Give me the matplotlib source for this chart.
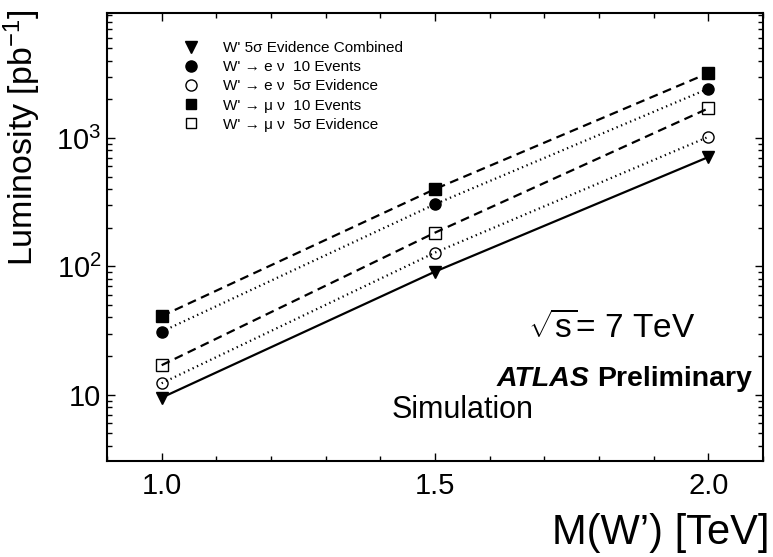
import matplotlib
matplotlib.use("Agg")
import matplotlib.pyplot as plt
from matplotlib.lines import Line2D
from matplotlib.ticker import FixedLocator, FixedFormatter, LogLocator, NullFormatter, MultipleLocator

plt.rcParams['font.family'] = ['Liberation Sans', 'DejaVu Sans']
plt.rcParams['mathtext.fontset'] = 'custom'
plt.rcParams['mathtext.rm'] = 'Liberation Sans'
plt.rcParams['mathtext.it'] = 'Liberation Sans:italic'
plt.rcParams['mathtext.bf'] = 'Liberation Sans:bold'

# W' mass points [TeV]
mass = [1.0, 1.5, 2.0]
# Integrated luminosity needed [pb^-1]
combined_5sigma = [9.5, 91, 710]
enu_10events = [31, 305, 2420]
enu_5sigma = [12.3, 128, 1020]
munu_10events = [41, 400, 3200]
munu_5sigma = [17, 183, 1700]

labels = ["W' 5\u03c3 Evidence Combined",
          "W' \u2192 e \u03bd  10 Events",
          "W' \u2192 e \u03bd  5\u03c3 Evidence",
          "W' \u2192 \u03bc \u03bd  10 Events",
          "W' \u2192 \u03bc \u03bd  5\u03c3 Evidence"]

xticks = [1.0, 1.5, 2.0]
xticklabels = ["1.0", "1.5", "2.0"]
yticks = [10, 100, 1000]
yticklabels = ["10", r"$10^{2}$", r"$10^{3}$"]

fig = plt.figure(figsize=(7.73, 5.57), dpi=100)
ax = fig.add_axes([107/773, 1 - 461/557, (763 - 107)/773, (461 - 13)/557])
ax.set_yscale('log')
ax.set_xlim(0.9, 2.1)
ax.set_ylim(3.05, 9400)

lw = 1.6
ms = 8
# (values, line style, marker, filled)
series = [
    (munu_10events, '--', 's', True),
    (enu_10events, ':', 'o', True),
    (munu_5sigma, '--', 's', False),
    (enu_5sigma, ':', 'o', False),
    (combined_5sigma, '-', 'v', True),
]
for vals, ls, mk, filled in series:
    if ls == '--':
        dash = (4, 2.5)
    elif ls == ':':
        dash = (0.6, 1.6)
    else:
        dash = (None, None)
    ax.plot(mass, vals, linestyle=ls, color='black', lw=lw,
            dashes=dash, dash_capstyle='butt', zorder=2)
    ax.plot(mass, vals, linestyle='none', marker=mk,
            markersize=ms + 1 if mk == 'v' else ms,
            markerfacecolor='black' if filled else 'none',
            markeredgecolor='black', markeredgewidth=1.0, zorder=3)

# axes styling
for s in ax.spines.values():
    s.set_linewidth(1.5)
ax.xaxis.set_major_locator(FixedLocator(xticks))
ax.xaxis.set_major_formatter(FixedFormatter(xticklabels))
ax.xaxis.set_minor_locator(MultipleLocator(0.1))
ax.yaxis.set_major_locator(FixedLocator(yticks))
ax.yaxis.set_major_formatter(FixedFormatter(yticklabels))
ax.yaxis.set_minor_locator(LogLocator(base=10, subs=range(2, 10)))
ax.yaxis.set_minor_formatter(NullFormatter())
ax.tick_params(which='both', direction='in', top=True, right=True, width=1.0)
ax.tick_params(which='major', length=6, labelsize=21, pad=8)
ax.tick_params(which='minor', length=3.5)
ax.tick_params(axis='y', which='major', pad=4)

# legend
handles = [
    Line2D([], [], linestyle='none', marker='v', markersize=8, mfc='black', mec='black'),
    Line2D([], [], linestyle='none', marker='o', markersize=8, mfc='black', mec='black'),
    Line2D([], [], linestyle='none', marker='o', markersize=8, mfc='white', mec='black'),
    Line2D([], [], linestyle='none', marker='s', markersize=7.5, mfc='black', mec='black'),
    Line2D([], [], linestyle='none', marker='s', markersize=7.5, mfc='white', mec='black'),
]
leg = fig.legend(handles, labels, loc='upper left', bbox_to_anchor=(183/773, 1 - 41/557),
                 frameon=False, fontsize=11, handlelength=1.0, handletextpad=1.6,
                 borderpad=0, borderaxespad=0, labelspacing=0.34)

# axis titles
fig.text(22/773, 1 - 9/557, r"Luminosity [pb$^{-1}$]", rotation=90, ha='center', va='top', fontsize=24.5)
fig.text(769/773, 1 - 533/557, "M(W\u2019) [TeV]", ha='right', va='center', fontsize=30)

# annotations
ax.text(1.67, 33, r"$\sqrt{\mathrm{s}}$= 7 TeV", fontsize=24, ha='left', va='center')
ax.text(1.612, 13.2, "ATLAS", fontsize=20.5, fontweight='bold', style='italic', ha='left', va='center')
ax.text(2.079, 13.2, "Preliminary", fontsize=20.5, fontweight='bold', ha='right', va='center')
ax.text(1.42, 7.6, "Simulation", fontsize=22, ha='left', va='center')

fig.savefig("out.png", dpi=100)
